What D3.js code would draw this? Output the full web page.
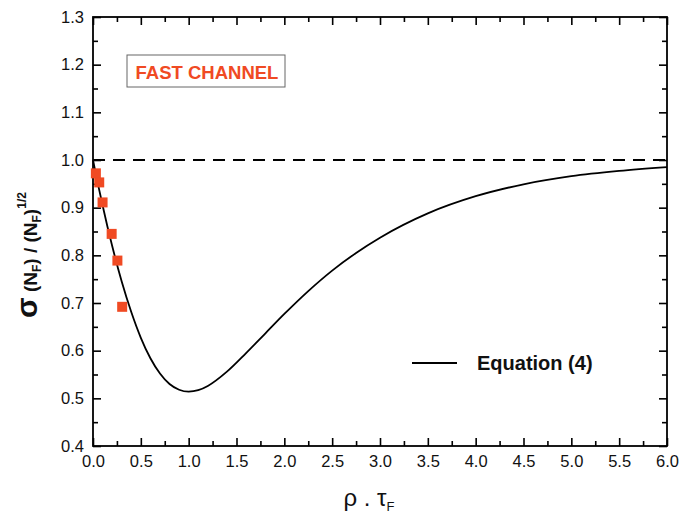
<!DOCTYPE html>
<html><head><meta charset="utf-8">
<script src="https://cdn.jsdelivr.net/npm/d3@7"></script>
<style>body{margin:0;background:#fff}svg{display:block;font-family:Arial,"Liberation Sans",sans-serif}</style>
</head><body><svg id="c" width="680" height="515"></svg>
<script>
// Equation (4) curve
const curveX = [0, 0.02, 0.05, 0.1, 0.15, 0.2, 0.3, 0.4, 0.5, 0.6, 0.7, 0.8, 0.9, 1.0, 1.1, 1.2, 1.4, 1.6, 1.8, 2.0, 2.25, 2.5, 2.75, 3.0, 3.5, 4.0, 4.5, 5.0, 5.5, 6.0];
const curveY = [1.000, 0.980, 0.951, 0.905, 0.861, 0.820, 0.745, 0.681, 0.627, 0.584, 0.552, 0.530, 0.518, 0.514, 0.517, 0.526, 0.556, 0.595, 0.636, 0.677, 0.725, 0.768, 0.805, 0.837, 0.888, 0.924, 0.949, 0.966, 0.977, 0.985];
// Fast channel measurements
const fastX = [0.03, 0.065, 0.10, 0.195, 0.255, 0.305];
const fastY = [0.972, 0.953, 0.911, 0.845, 0.789, 0.692];
const xTicks = [0, 0.5, 1, 1.5, 2, 2.5, 3, 3.5, 4, 4.5, 5, 5.5, 6];
const yTicks = [0.4, 0.5, 0.6, 0.7, 0.8, 0.9, 1.0, 1.1, 1.2, 1.3];
const refLevel = 1.0;

const svg = d3.select("#c");
const L = 93, R = 667, T = 17, B = 446;
const x = d3.scaleLinear().domain([0, 6]).range([L, R]);
const y = d3.scaleLinear().domain([0.4, 1.3]).range([B, T]);
const xMinor = d3.range(0.25, 6, 0.5);
const yMinor = d3.range(0.45, 1.3, 0.1);

function tickSet(axisFn, scale, vals, size, labels, g) {
  const a = axisFn(scale).tickValues(vals).tickSizeInner(size).tickSizeOuter(0).tickPadding(labels ? 9 : 0);
  if (labels) a.tickFormat(d3.format(".1f")); else a.tickFormat("");
  g.call(a);
  g.select(".domain").remove();
  g.selectAll("line").attr("stroke", "#000").attr("stroke-width", 1.6);
  g.selectAll("text").attr("font-size", 16.5).attr("fill", "#111").attr("font-family", "Arial, 'Liberation Sans', sans-serif");
}
tickSet(d3.axisBottom, x, xTicks, -8, true, svg.append("g").attr("transform", `translate(0,${B})`));
tickSet(d3.axisBottom, x, xMinor, -5, false, svg.append("g").attr("transform", `translate(0,${B})`));
tickSet(d3.axisTop, x, xTicks, -8, false, svg.append("g").attr("transform", `translate(0,${T})`));
tickSet(d3.axisTop, x, xMinor, -5, false, svg.append("g").attr("transform", `translate(0,${T})`));
tickSet(d3.axisLeft, y, yTicks, -8, true, svg.append("g").attr("transform", `translate(${L},0)`));
tickSet(d3.axisLeft, y, yMinor, -5, false, svg.append("g").attr("transform", `translate(${L},0)`));
tickSet(d3.axisRight, y, yTicks, -8, false, svg.append("g").attr("transform", `translate(${R},0)`));
tickSet(d3.axisRight, y, yMinor, -5, false, svg.append("g").attr("transform", `translate(${R},0)`));

svg.append("rect").attr("x", L).attr("y", T).attr("width", R - L).attr("height", B - T)
  .attr("fill", "none").attr("stroke", "#000").attr("stroke-width", 1.8);

// dashed reference
svg.append("line").attr("x1", x(0)).attr("x2", x(6)).attr("y1", y(refLevel)).attr("y2", y(refLevel))
  .attr("stroke", "#000").attr("stroke-width", 2).attr("stroke-dasharray", "12,8");

// curve
const pts = curveX.map((d, i) => [d, curveY[i]]);
svg.append("path").datum(pts)
  .attr("d", d3.line().x(d => x(d[0])).y(d => y(d[1])).curve(d3.curveMonotoneX))
  .attr("fill", "none").attr("stroke", "#000").attr("stroke-width", 1.8);

// squares
const sq = 10;
svg.append("g").selectAll("rect").data(fastX.map((d, i) => [d, fastY[i]])).join("rect")
  .attr("x", d => x(d[0]) - sq / 2).attr("y", d => y(d[1]) - sq / 2)
  .attr("width", sq).attr("height", sq).attr("fill", "#f04a23");

// FAST CHANNEL box
svg.append("rect").attr("x", 127).attr("y", 55).attr("width", 158).attr("height", 32)
  .attr("fill", "#fff").attr("stroke", "#666").attr("stroke-width", 1);
svg.append("text").attr("x", 207).attr("y", 79).attr("text-anchor", "middle")
  .attr("font-size", 18.5).attr("font-weight", "bold").attr("fill", "#f04a23").text("FAST CHANNEL");

// legend
svg.append("line").attr("x1", 412).attr("x2", 457).attr("y1", 363).attr("y2", 363)
  .attr("stroke", "#000").attr("stroke-width", 1.8);
svg.append("text").attr("x", 477).attr("y", 370).attr("font-size", 20).attr("font-weight", "bold")
  .attr("fill", "#111").text("Equation (4)");

// x label
const xl = svg.append("text").attr("x", 369).attr("y", 506).attr("text-anchor", "middle")
  .attr("font-size", 24).attr("fill", "#111");
xl.append("tspan").text("ρ . τ");
xl.append("tspan").attr("font-size", 13).attr("dy", 5).text("F");

// y label
const yl = svg.append("text").attr("transform", "translate(37,255) rotate(-90)")
  .attr("text-anchor", "middle").attr("font-weight", "bold").attr("font-size", 21).attr("fill", "#111");
yl.append("tspan").attr("font-size", 30).text("σ");
yl.append("tspan").attr("font-size", 19).text(" (N");
yl.append("tspan").attr("font-size", 12).attr("dy", 4).text("F");
yl.append("tspan").attr("font-size", 19).attr("dy", -4).text(") / (N");
yl.append("tspan").attr("font-size", 12).attr("dy", 4).text("F");
yl.append("tspan").attr("font-size", 19).attr("dy", -4).text(")");
yl.append("tspan").attr("font-size", 12).attr("dy", -11).text("1/2");
</script></body></html>
